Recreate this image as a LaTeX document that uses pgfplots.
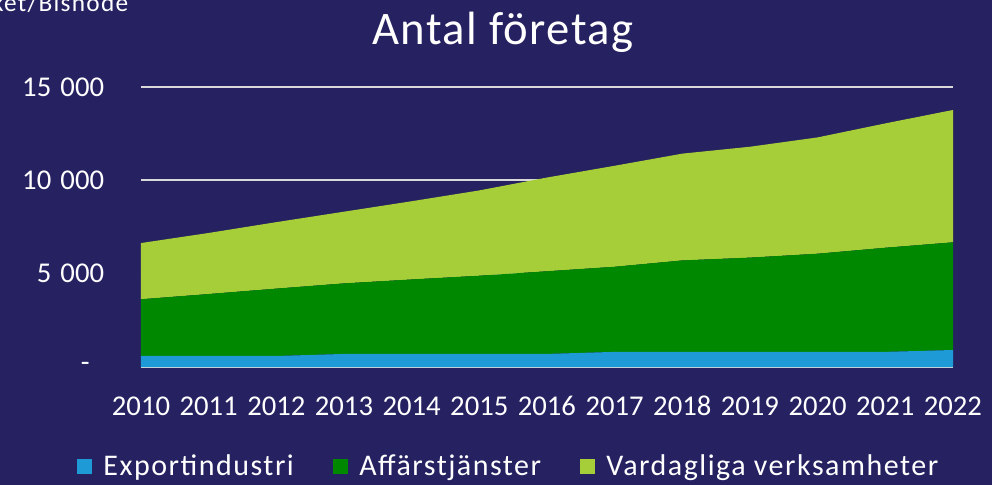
\documentclass[border=0pt]{standalone}
\usepackage{pgfplots}
\pgfplotsset{compat=1.18}
\usepackage{fontspec}
\setmainfont{Carlito}
\newfontfamily\widefont[LetterSpace=5]{Carlito}
\newfontfamily\titlefont[LetterSpace=3]{Carlito}
\definecolor{bgNavy}{RGB}{38,34,97}
\definecolor{cExport}{RGB}{30,155,215}
\definecolor{cAffar}{RGB}{0,136,0}
\definecolor{cVardag}{RGB}{166,206,57}
\definecolor{cGrid}{RGB}{217,217,217}

\begin{document}
\begin{tikzpicture}[x=0.75pt, y=0.75pt]
% page = 992 x 485 px, axis origin at px (141,367)
\fill[bgNavy] (-141,-118) rectangle (851,367);
\useasboundingbox (-141,-118) rectangle (851,367);
\node[anchor=base, text=white, font=\titlefont\fontsize{35}{38}\selectfont] at (362,322) {Antal företag};
\node[anchor=base east, text=white, font=\widefont\fontsize{19}{22}\selectfont] at (-8,355) {Källa: Bolagsverket/Bisnode};
\begin{axis}[
    scale only axis, width=609pt, height=210pt,
    xmin=2010, xmax=2022, ymin=0, ymax=15000,
    stack plots=y, clip=false, scaled y ticks=false,
    axis line style={draw=none},
    major tick length=0pt,
    xtick={2010,...,2022},
    xticklabels={2010,2011,2012,2013,2014,2015,2016,2017,2018,2019,2020,2021,2022},
    ytick={0,5000,10000,15000},
    yticklabels={-\hphantom{0}, 5\hspace{0.32em}000, 10\hspace{0.32em}000, 15\hspace{0.32em}000},
    ymajorgrids, grid style={cGrid, line width=1.5pt},
    tick label style={text=white, font=\fontsize{21.5}{24}\selectfont},
    yticklabel style={anchor=east, inner sep=0pt, xshift=-27.5pt},
    xticklabel style={anchor=base, inner sep=0pt, yshift=-36pt},
    legend columns=3,
    legend style={at={(0.453,-0.354)}, anchor=center, draw=none, fill=none,
        text=white, font=\widefont\fontsize{22.5}{25}\selectfont, inner sep=0pt,
        /tikz/every even column/.append style={column sep=27pt}},
    legend image code/.code={\fill[#1] (0pt,-5.6pt) rectangle (11.25pt,5.6pt); \path (18pt,0pt);},
]
\addplot[fill=cExport, draw=none] coordinates {
(2010,590)(2011,590)(2012,590)(2013,700)(2014,700)(2015,700)(2016,700)
(2017,810)(2018,810)(2019,810)(2020,810)(2021,810)(2022,910)} \closedcycle;
\addlegendentry{Exportindustri}
\addplot[fill=cAffar, draw=none] coordinates {
(2010,3040)(2011,3320)(2012,3610)(2013,3780)(2014,3990)(2015,4190)(2016,4430)
(2017,4560)(2018,4900)(2019,5050)(2020,5260)(2021,5580)(2022,5770)} \closedcycle;
\addlegendentry{Affärstjänster}
\addplot[fill=cVardag, draw=none] coordinates {
(2010,3010)(2011,3270)(2012,3560)(2013,3840)(2014,4190)(2015,4570)(2016,5020)
(2017,5410)(2018,5720)(2019,5940)(2020,6230)(2021,6660)(2022,7090)} \closedcycle;
\addlegendentry{Vardagliga verksamheter}
\draw[cGrid, line width=1.4pt] (axis cs:2010,0) -- (axis cs:2022,0);
\end{axis}
\end{tikzpicture}
\end{document}
